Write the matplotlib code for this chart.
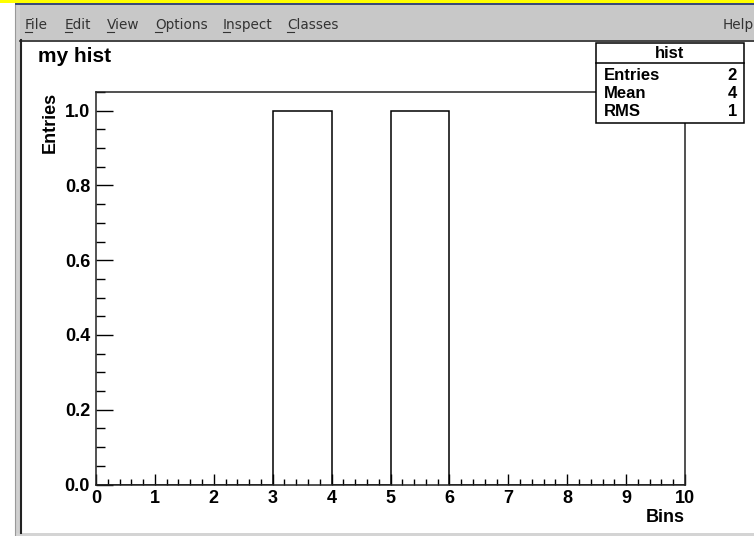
import numpy as np
import matplotlib.pyplot as plt
from matplotlib.patches import Rectangle
from matplotlib.lines import Line2D
from matplotlib.ticker import MultipleLocator, FormatStrFormatter

# histogram contents
edges = np.arange(0, 11)
counts = [0, 0, 0, 1, 0, 1, 0, 0, 0, 0]
stats_names = ['Entries', 'Mean', 'RMS']
stats_values = ['2', '4', '1']
menu_items = ['File', 'Edit', 'View', 'Options', 'Inspect', 'Classes']
menu_x = [25, 65, 107, 155, 223, 287]

W, H = 754, 536
fig = plt.figure(figsize=(W / 100, H / 100), dpi=100)
fig.patch.set_facecolor('white')


def fx(x):
    return x / W


def fy(y):
    return 1 - y / H


def rect(x0, y0, x1, y1, color, z=0):
    fig.add_artist(Rectangle((fx(x0), fy(y1)), fx(x1) - fx(x0), fy(y0) - fy(y1),
                             transform=fig.transFigure, facecolor=color,
                             edgecolor='none', zorder=z))


def line(x0, y0, x1, y1, color='black', lw=1, z=2):
    fig.add_artist(Line2D([fx(x0), fx(x1)], [fy(y0), fy(y1)], transform=fig.transFigure,
                          color=color, lw=lw, zorder=z))


# window chrome
rect(0, 0, W, 3, '#ffff00')
rect(15, 3, W, 5, '#3a4a7a')
rect(15, 5, W, 40, '#c8c8c8')
rect(15, 5, 20, 536, '#d0d0d0')
rect(15, 533, W, 536, '#d4d4d4')
line(20, 40.5, W, 40.5, '#222222', lw=1.2)
line(21, 40, 21, 533, '#222222', lw=1.5)
line(14.5, 5, 14.5, 536, '#999999', lw=0.8)

menu_font = dict(family='DejaVu Sans', fontsize=9.8, color='#333333', va='baseline')
for name, x in zip(menu_items, menu_x):
    fig.text(fx(x), fy(29), name, **menu_font)
    line(x, 31.5, x + 7, 31.5, '#333333', lw=0.8)
fig.text(fx(754), fy(29), 'Help', ha='right', **menu_font)

# main histogram pad
ax = fig.add_axes([fx(96), fy(484.5), fx(685) - fx(96), fy(92) - fy(484.5)])
ax.stairs(counts, edges, color='black', lw=1.1)
ax.set_xlim(0, 10)
ax.set_ylim(0, 1.05)
for s in ax.spines.values():
    s.set_linewidth(1.1)
    s.set_color('#222222')

ax.xaxis.set_major_locator(MultipleLocator(1))
ax.xaxis.set_minor_locator(MultipleLocator(0.2))
ax.yaxis.set_major_locator(MultipleLocator(0.2))
ax.yaxis.set_minor_locator(MultipleLocator(0.05))
ax.yaxis.set_major_formatter(FormatStrFormatter('%.1f'))
ax.tick_params(axis='x', which='major', direction='in', length=7.9, width=1, pad=4)
ax.tick_params(axis='x', which='minor', direction='in', length=4.3, width=1)
ax.tick_params(axis='y', which='major', direction='in', length=12.2, width=1, pad=4.3)
ax.tick_params(axis='y', which='minor', direction='in', length=6.5, width=1)
for lab in ax.get_xticklabels() + ax.get_yticklabels():
    lab.set_fontfamily('Liberation Sans')
    lab.set_fontweight('bold')
    lab.set_fontsize(13)

bold = dict(family='Liberation Sans', fontweight='bold')
fig.text(fx(38), fy(57), 'my hist', fontsize=15, va='center', **bold)
fig.text(fx(50), fy(92), 'Entries', rotation=90, fontsize=13, ha='center', va='top', **bold)
fig.text(fx(685), fy(517), 'Bins', fontsize=13, ha='right', va='center', **bold)

# stats box
fig.add_artist(Rectangle((fx(596), fy(123)), fx(744) - fx(596), fy(43) - fy(123),
                         transform=fig.transFigure, facecolor='white',
                         edgecolor='black', lw=1.1, zorder=5))
line(596, 63, 744, 63, lw=1.1, z=6)
fig.text(fx(670), fy(54), 'hist', fontsize=12, ha='center', va='center', zorder=7, **bold)
for i, (n, v) in enumerate(zip(stats_names, stats_values)):
    y = 75 + i * 18.5
    fig.text(fx(604), fy(y), n, fontsize=12, va='center', zorder=7, **bold)
    fig.text(fx(737), fy(y), v, fontsize=12, ha='right', va='center', zorder=7, **bold)

fig.savefig('out.png', dpi=100)
